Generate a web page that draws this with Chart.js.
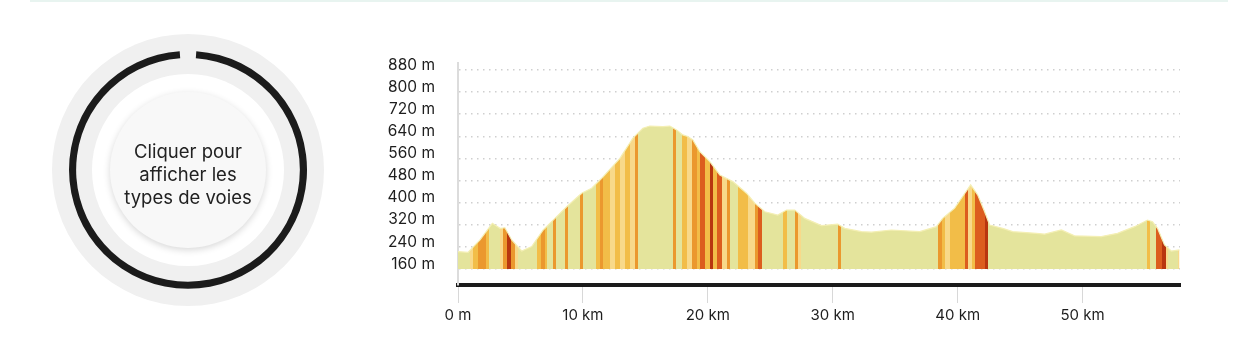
<!DOCTYPE html>
<html lang="fr">
<head>
<meta charset="utf-8">
<title>Profil altimétrique</title>
<script src="https://cdn.jsdelivr.net/npm/chart.js@4.4.1/dist/chart.umd.min.js"></script>
<style>
  html, body { margin: 0; padding: 0; background: #fff; }
  body { width: 1233px; height: 342px; position: relative; overflow: hidden; font-family: Inter, "Noto Sans", sans-serif; }
  .map-edge { position: absolute; left: 30px; top: 0; width: 1198px; height: 2px; background: #e8f4f0; }
  .disc { position: absolute; border-radius: 50%; }
  #outer { left: 52px; top: 34px; width: 272px; height: 272px; background: #f0f0f0; }
  #white { left: 92px; top: 74px; width: 192px; height: 192px; background: #fff; }
  #inner { left: 110px; top: 92px; width: 156px; height: 156px; background: #f8f8f8;
           box-shadow: 0 2px 7px rgba(0,0,0,0.16); display: flex; align-items: center;
           justify-content: center; text-align: center; font-size: 18.5px; line-height: 23px; color: #222;
           box-sizing: border-box; padding-top: 8px; }
  #ringChart { position: absolute; left: 69px; top: 51px; }
  #profileChart { position: absolute; left: 370px; top: 0; }
</style>
</head>
<body>
<div class="map-edge"></div>
<div class="disc" id="outer"></div>
<div class="disc" id="white"></div>
<canvas id="ringChart" width="238" height="238"></canvas>
<div class="disc" id="inner">Cliquer pour<br>afficher les<br>types de voies</div>
<canvas id="profileChart" width="863" height="342"></canvas>

<script>
// profile: distance (km) and altitude (m)
const distKm = [0, 0.8, 1.76, 2.75, 3.36, 3.76, 4.3, 5.1, 5.9, 6.82, 7.76, 8.7, 9.9, 10.7, 11.5,
  12.96, 14.0, 14.8, 15.36, 16.4, 16.96, 17.5, 18.0, 18.4, 18.8, 19.36, 20.16, 20.96, 22.0, 23.1,
  23.76, 24.56, 25.6, 26.3, 26.96, 27.76, 29.1, 30.4, 30.96, 32.3, 33.1, 34.7, 36.96, 38.3, 38.8,
  39.76, 40.4, 41.04, 41.6, 42.16, 42.56, 43.6, 44.4, 46.3, 46.96, 48.3, 49.36, 51.5, 52.8, 54.16,
  55.2, 55.6, 56.0, 56.56, 57.1, 57.76];
const elevation = [223, 220, 265, 325, 307, 309, 265, 225, 241, 301, 343, 385, 434, 452, 488,
  560, 633, 669, 677, 675, 677, 663, 645, 639, 627, 584, 548, 500, 476, 434,
  398, 367, 355, 373, 373, 343, 317, 322, 307, 295, 293, 301, 295, 313, 343,
  380, 422, 464, 428, 367, 319, 307, 295, 289, 286, 301, 280, 277, 289, 313,
  337, 331, 307, 247, 225, 229];

// slope stripes: start / end (km) and class (1 = gentle ... 5 = steep)
const stripeStartKm = [0.96, 1.2, 1.6, 2.0, 2.24, 3.36, 3.6, 3.92, 4.24, 4.56, 6.32, 6.64, 6.96, 7.6, 8.56, 9.76,
  11.04, 11.36, 11.6, 12.16, 12.56, 12.96, 13.36, 13.76, 14.16, 17.2, 17.92, 18.32, 18.72, 19.12, 19.36, 19.76,
  20.16, 20.4, 20.72, 21.12, 21.52, 22.4, 23.2, 23.76, 24.0, 26.0, 26.96, 27.2, 30.4,
  38.4, 38.72, 38.96, 39.36, 40.56, 40.8, 41.12, 41.36, 42.16, 55.12, 55.84, 56.32, 56.64, 57.6];
const stripeEndKm = [1.2, 1.6, 2.0, 2.24, 2.48, 3.6, 3.92, 4.24, 4.56, 4.8, 6.64, 6.96, 7.12, 7.84, 8.8, 10.0,
  11.36, 11.6, 12.16, 12.56, 12.96, 13.36, 13.76, 14.16, 14.4, 17.44, 18.32, 18.72, 19.12, 19.36, 19.76, 20.16,
  20.4, 20.72, 21.12, 21.52, 21.76, 23.2, 23.76, 24.0, 24.32, 26.32, 27.2, 27.44, 30.64,
  38.72, 38.96, 39.36, 40.56, 40.8, 41.12, 41.36, 42.16, 42.4, 55.36, 56.32, 56.64, 56.8, 57.76];
const stripeClass = [1, 2, 3, 3, 2, 1, 3, 5, 3, 1, 2, 3, 2, 3, 3, 3,
  2, 3, 2, 1, 2, 1, 2, 1, 3, 3, 2, 1, 3, 2, 4, 2,
  5, 2, 4, 1, 3, 2, 1, 3, 4, 2, 3, 1, 3,
  3, 2, 1, 2, 4, 1, 2, 4, 5, 2, 4, 5, 1, 1];

const yTicks = [160, 240, 320, 400, 480, 560, 640, 720, 800, 880];
const xTicks = [0, 10, 20, 30, 40, 50];
const maxKm = 57.8;

// road types (ring)
const roadTypeLabels = ['Inconnu'];
const roadTypeShares = [100];

const baseFill = '#e4e49c';
const slopeColors = ['#e4e49c', '#f8d98a', '#f2bd48', '#eb982e', '#dc5d1e', '#b8360f'];

function stripeGradient(context) {
  const chart = context.chart;
  const { ctx, chartArea, scales } = chart;
  if (!chartArea) return baseFill;
  const x0 = scales.x.getPixelForValue(0);
  const x1 = scales.x.getPixelForValue(maxKm);
  const g = ctx.createLinearGradient(x0, 0, x1, 0);
  const t = km => Math.min(1, Math.max(0, km / maxKm));
  g.addColorStop(0, baseFill);
  for (let i = 0; i < stripeStartKm.length; i++) {
    const c = slopeColors[stripeClass[i]];
    g.addColorStop(t(stripeStartKm[i]), baseFill);
    g.addColorStop(t(stripeStartKm[i]), c);
    g.addColorStop(t(stripeEndKm[i]), c);
    g.addColorStop(t(stripeEndKm[i]), baseFill);
  }
  g.addColorStop(1, baseFill);
  return g;
}

new Chart(document.getElementById('ringChart'), {
  type: 'doughnut',
  data: {
    labels: roadTypeLabels,
    datasets: [{
      data: roadTypeShares,
      backgroundColor: ['#1b1b1b'],
      borderWidth: 0,
      hoverOffset: 0
    }]
  },
  options: {
    responsive: false,
    animation: false,
    cutout: '94%',
    rotation: 4,
    circumference: 352,
    plugins: { legend: { display: false }, tooltip: { enabled: false } }
  }
});

new Chart(document.getElementById('profileChart'), {
  type: 'line',
  data: {
    datasets: [{
      label: 'Altitude',
      data: distKm.map((x, i) => ({ x: x, y: elevation[i] })),
      backgroundColor: stripeGradient,
      borderColor: '#f4efb4',
      borderWidth: 1.2,
      pointRadius: 0,
      tension: 0,
      fill: { value: 160 }
    }]
  },
  options: {
    responsive: false,
    animation: false,
    layout: { padding: { top: 63, right: 53, left: 0, bottom: 0 } },
    plugins: { legend: { display: false }, tooltip: { enabled: false } },
    scales: {
      x: {
        type: 'linear',
        min: 0,
        max: maxKm,
        afterFit: s => { s.height = 57; },
        afterBuildTicks: s => { s.ticks = xTicks.map(v => ({ value: v })); },
        border: { color: '#1b1b1b', width: 4 },
        grid: { drawOnChartArea: false, drawTicks: true, tickLength: 18, color: '#d8d8d8' },
        ticks: {
          padding: 3,
          color: '#1e1e1e',
          font: { family: 'Inter', size: 15 },
          maxRotation: 0,
          callback: v => v === 0 ? '0 m' : v + ' km'
        }
      },
      y: {
        min: 102,
        max: 905,
        afterFit: s => { s.width = 88; },
        afterBuildTicks: s => { s.ticks = yTicks.map(v => ({ value: v })); },
        border: { color: '#dcdcdc', width: 2, dash: [1.5, 4.5] },
        grid: { drawTicks: false, color: '#cfcfcf', lineWidth: 1.5 },
        ticks: {
          padding: 23,
          labelOffset: -5,
          color: '#1e1e1e',
          font: { family: 'Inter', size: 15.5 },
          callback: v => v + ' m'
        }
      }
    }
  }
});
</script>
</body>
</html>
